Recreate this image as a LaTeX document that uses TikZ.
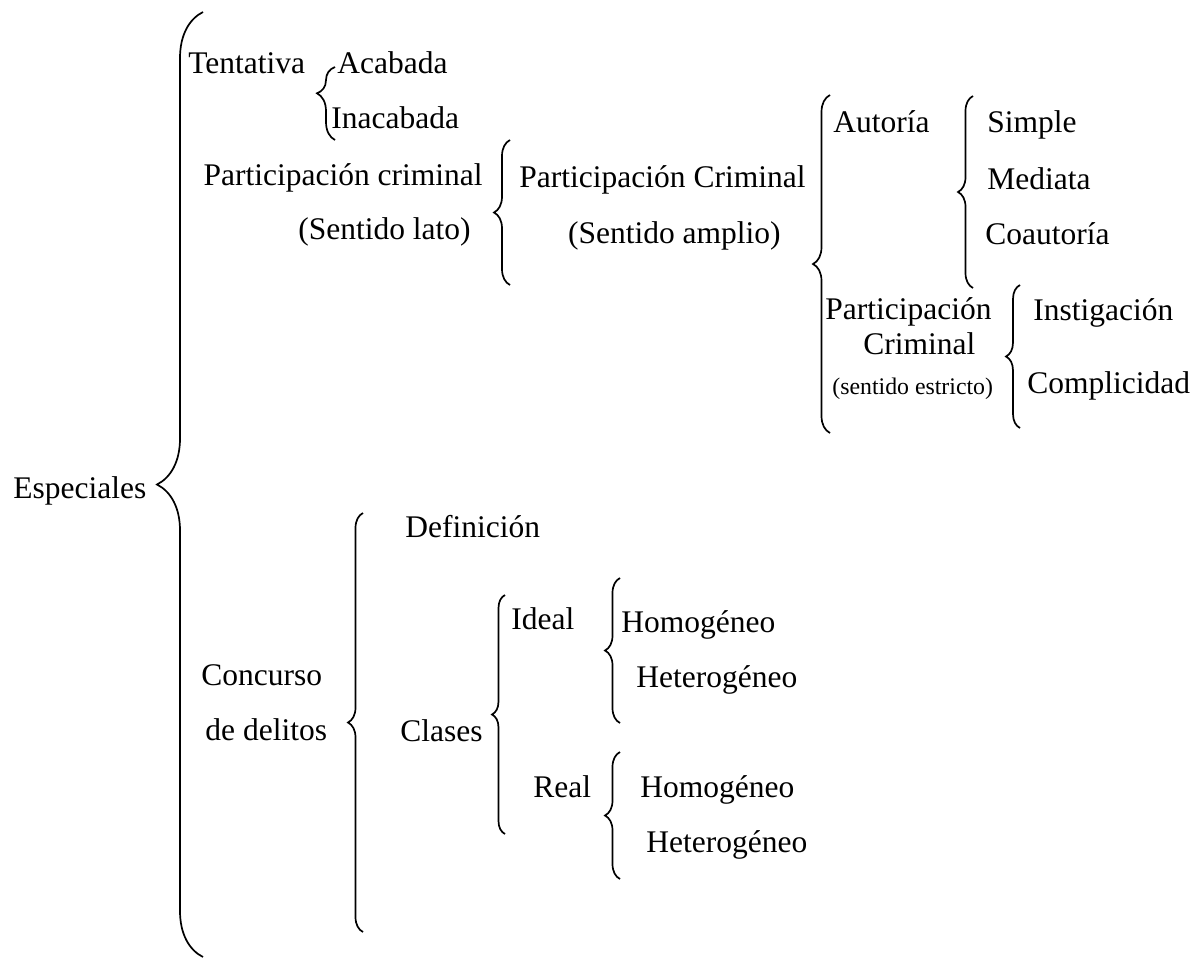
\documentclass[tikz,border=0pt]{standalone}
\usepackage{fontspec}
\setmainfont{Liberation Serif}
\usetikzlibrary{decorations.pathreplacing}

\begin{document}
\begin{tikzpicture}[x=0.5pt, y=-0.5pt,
  lbl/.style={inner sep=0pt, anchor=base west, font=\fontsize{15.75}{18}\selectfont},
  small/.style={lbl, font=\fontsize{11.9}{14}\selectfont},
  brc/.style={decorate, decoration={brace, amplitude=#1}, line width=0.85pt}]
\useasboundingbox (0,0) rectangle (1204,959);

% Especiales
\node [lbl] (esp) at (13, 498) {Especiales};
\draw [brc=23pt] (203, 957) -- (203, 12);

% Tentativa
\node [lbl] (tent) at (188, 73) {Tentativa};
\draw [brc=9pt, decoration={aspect=0.64}] (335, 140) -- (335, 67);
\node [lbl] (acab) at (337, 73) {Acabada};
\node [lbl] (inac) at (331, 128) {Inacabada};

% Participacion criminal
\node [lbl, anchor=base east] (plato) at (483, 185) {Participación criminal};
\node [lbl, anchor=base east] (slato) at (471, 239) {(Sentido lato)};
\draw [brc=8pt] (510, 285) -- (510, 140);
\node [lbl] (pampl) at (519, 187) {Participación Criminal};
\node [lbl, anchor=base east] (sampl) at (781, 243) {(Sentido amplio)};
\draw [brc=8.5pt] (830, 433) -- (830, 95);

\node [lbl] (aut) at (833, 132) {Autoría};
\draw [brc=7.5pt] (973, 288) -- (973, 96);
\node [lbl] (simp) at (987, 132) {Simple};
\node [lbl] (medi) at (987, 189) {Mediata};
\node [lbl] (coau) at (985, 244) {Coautoría};

\node [lbl] (pestr) at (825, 319) {Participación};
\node [lbl] (cestr) at (863, 354) {Criminal};
\node [small] (sestr) at (832, 394) {(sentido estricto)};
\draw [brc=7pt] (1020, 428) -- (1020, 285);
\node [lbl] (inst) at (1033, 320) {Instigación};
\node [lbl] (compl) at (1027, 393) {Complicidad};

% Concurso de delitos
\node [lbl] (conc) at (201, 685) {Concurso};
\node [lbl] (deli) at (205, 740) {de delitos};
\draw [brc=7.5pt] (363, 932) -- (363, 513);
\node [lbl] (defi) at (405, 537) {Definición};
\node [lbl] (clas) at (400, 741) {Clases};
\draw [brc=6.5pt] (505, 834) -- (505, 595);

\node [lbl] (idea) at (511, 629) {Ideal};
\draw [brc=7.5pt] (620, 723) -- (620, 578);
\node [lbl] (homo1) at (621, 632) {Homogéneo};
\node [lbl] (hete1) at (636, 687) {Heterogéneo};

\node [lbl] (real) at (533, 797) {Real};
\draw [brc=7.5pt] (620, 879) -- (620, 752);
\node [lbl] (homo2) at (640, 797) {Homogéneo};
\node [lbl] (hete2) at (646, 852) {Heterogéneo};
\end{tikzpicture}
\end{document}
